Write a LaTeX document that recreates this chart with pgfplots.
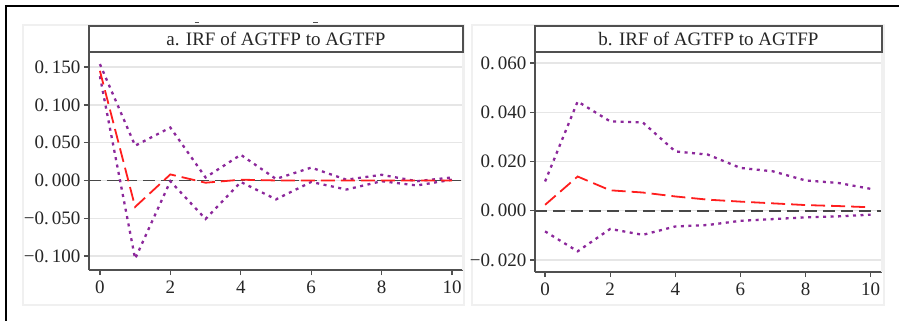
\documentclass[border=0pt]{standalone}
\usepackage{fontspec}
\setmainfont{Liberation Serif}
\usepackage{pgfplots}
\pgfplotsset{compat=1.18}
\definecolor{ci}{RGB}{140,40,155}
\definecolor{irf}{RGB}{255,30,30}
\definecolor{axc}{RGB}{80,80,80}
\definecolor{gridc}{RGB}{230,230,230}
\definecolor{panelc}{RGB}{240,240,240}
\pgfplotsset{
 myaxis/.style={
  scale only axis, anchor=south west,
  axis x line*=bottom, axis y line*=left,
  x axis line style={-}, y axis line style={-},
  axis line style={axc, line width=1.4pt},
  tick style={axc, line width=1.4pt},
  major tick length=5pt, tick align=outside,
  xtick={0,2,4,6,8,10},
  xticklabels={0,2,4,6,8,10},
  ymajorgrids, grid style={gridc, line width=1.3pt},
  ticklabel style={font=\fontsize{19}{22}\selectfont, text=black!85},
  xticklabel style={yshift=-2pt},
  xmin=-0.31, xmax=10.31,
 },
 zero/.style={axc!90!black, line width=1.6pt, dash pattern=on 12pt off 6pt},
 band/.style={ci, line width=2.3pt, dash pattern=on 3pt off 4.5pt},
 resp/.style={irf, line width=1.8pt, dash pattern=on 14pt off 6pt},
}
\begin{document}
\begin{tikzpicture}
\useasboundingbox (0pt,0pt) rectangle (899pt,-321pt);
\draw[panelc, line width=2pt] (23pt,-25pt) rectangle (464pt,-305pt);
\draw[panelc, line width=2pt] (472pt,-25pt) rectangle (884pt,-305pt);
\draw[black, line width=2.5pt] (4.8pt,-6pt) -- (899pt,-6pt);
\draw[black, line width=2.5pt] (6pt,-6pt) -- (6pt,-321pt);
\draw[axc, line width=1pt] (194.5pt,-23pt) -- (199pt,-23pt);
\draw[axc, line width=1pt] (313pt,-23pt) -- (317.5pt,-23pt);

\begin{axis}[myaxis, name=a, at={(89pt,-270pt)}, width=374pt, height=218pt,
  ymin=-0.1185, ymax=0.170,
  ytick={-0.1,-0.05,0,0.05,0.1,0.15},
  yticklabels={−0.\,100,−0.\,050,0.\,000,0.\,050,0.\,100,0.\,150}]
\addplot[zero] coordinates {(-0.31,0) (10.31,0)};
\addplot[band] coordinates {(0,0.154) (1,0.046) (2,0.070) (3,0.004) (4,0.034) (5,0.002) (6,0.017) (7,0.001) (8,0.0075) (9,-0.001) (10,0.004)};
\addplot[band] coordinates {(0,0.138) (1,-0.1036) (2,-0.001) (3,-0.051) (4,-0.002) (5,-0.025) (6,-0.002) (7,-0.012) (8,-0.001) (9,-0.0066) (10,0.001)};
\addplot[resp] coordinates {(0,0.145) (1,-0.035) (2,0.008) (3,-0.003) (4,0.001) (5,0.000) (6,0.000) (7,0.000) (8,0.000) (9,0.000) (10,0.000)};
\end{axis}
\draw[panelc, line width=2pt] (a.south east) -- (a.north east);
\draw[axc, line width=1.4pt, fill=white] (a.north west) rectangle ([yshift=26pt]a.north east);
\node[font=\fontsize{19}{22}\selectfont, text=black!85] at ([yshift=13pt]a.north) {a. IRF of AGTFP to AGTFP};

\begin{axis}[myaxis, name=b, at={(535pt,-272pt)}, width=347pt, height=220pt,
  xmin=-0.31, xmax=10.35,
  ymin=-0.0249, ymax=0.0645,
  ytick={-0.02,0,0.02,0.04,0.06},
  yticklabels={−0.\,020,0.\,000,0.\,020,0.\,040,0.\,060}]
\addplot[zero] coordinates {(-0.31,0) (10.35,0)};
\addplot[band] coordinates {(0,0.0119) (1,0.0444) (2,0.0363) (3,0.0359) (4,0.0241) (5,0.0228) (6,0.0174) (7,0.0160) (8,0.0123) (9,0.0113) (10,0.0089)};
\addplot[band] coordinates {(0,-0.0084) (1,-0.0165) (2,-0.0074) (3,-0.0098) (4,-0.0064) (5,-0.0058) (6,-0.0041) (7,-0.0034) (8,-0.0027) (9,-0.0023) (10,-0.0016)};
\addplot[resp] coordinates {(0,0.0024) (1,0.0139) (2,0.0083) (3,0.0074) (4,0.0058) (5,0.0045) (6,0.0037) (7,0.0030) (8,0.0023) (9,0.0019) (10,0.0014)};
\end{axis}
\draw[panelc, line width=2pt] (b.south east) -- (b.north east);
\draw[axc, line width=1.4pt, fill=white] (b.north west) rectangle ([yshift=26pt]b.north east);
\node[font=\fontsize{19}{22}\selectfont, text=black!85] at ([yshift=13pt]b.north) {b. IRF of AGTFP to AGTFP};
\end{tikzpicture}
\end{document}
